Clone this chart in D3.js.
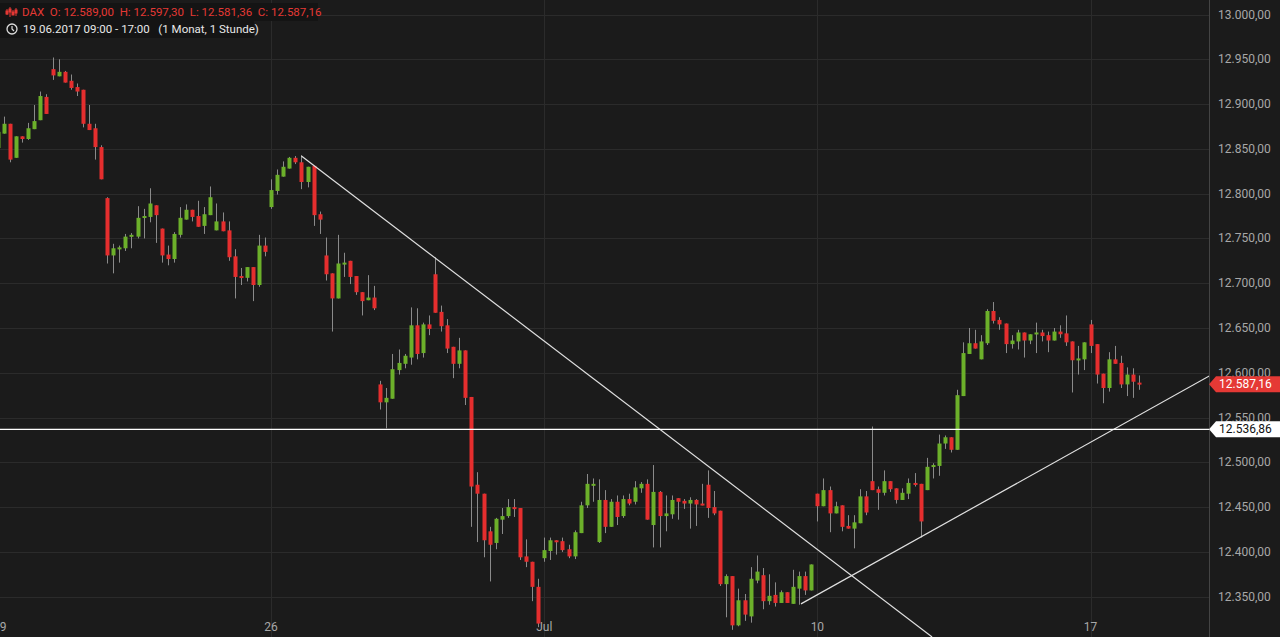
<!DOCTYPE html>
<html><head><meta charset="utf-8">
<script src="https://cdn.jsdelivr.net/npm/d3@7"></script>
<style>body{margin:0;background:#1b1b1b;overflow:hidden}svg{display:block}</style>
</head><body><svg id="c" width="1280" height="637"></svg>
<script>
// Candle values (index -1 .. 187)
const opens=[12851,12867,12878,12840,12864,12861,12872,12882,12908,12939,12931,12936,12926,12919,12916,12878,12873,12852,12795,12731,12738,12739,12752,12752,12773,12774,12787,12761,12732,12727,12754,12771,12782,12775,12764,12776,12759,12769,12759,12730,12708,12706,12718,12698,12742,12785,12803,12819,12828,12840,12835,12813,12831,12777,12731,12711,12683,12721,12725,12708,12690,12681,12684,12587,12567,12571,12603,12610,12617,12653,12622,12654,12710,12668,12653,12629,12610,12625,12573,12475,12465,12423,12410,12436,12440,12450,12449,12395,12389,12361,12393,12401,12413,12412,12403,12395,12421,12452,12474,12411,12458,12428,12456,12440,12459,12456,12471,12476,12430,12467,12440,12442,12460,12457,12454,12458,12454,12475,12450,12446,12364,12373,12318,12346,12328,12368,12374,12345,12352,12343,12355,12342,12359,12373,12357,12465,12451,12469,12443,12452,12429,12426,12432,12462,12479,12470,12466,12479,12471,12458,12465,12477,12476,12469,12495,12496,12521,12528,12514,12574,12621,12633,12615,12633,12669,12659,12655,12632,12635,12645,12636,12643,12645,12642,12636,12646,12644,12635,12614,12615,12654,12632,12599,12583,12615,12611,12587,12598,12589];
const highs=[12872,12886,12878,12864,12864,12879,12899,12914,12911,12952,12950,12937,12933,12923,12916,12899,12878,12854,12796,12744,12742,12755,12756,12786,12783,12806,12787,12761,12742,12757,12785,12788,12782,12792,12785,12808,12789,12779,12769,12738,12717,12718,12718,12754,12751,12816,12827,12836,12841,12842,12843,12830,12831,12780,12751,12711,12754,12734,12725,12708,12690,12709,12697,12591,12583,12621,12626,12621,12673,12672,12656,12664,12729,12675,12660,12629,12639,12625,12573,12489,12465,12428,12438,12449,12459,12459,12449,12414,12389,12370,12416,12416,12413,12416,12408,12424,12456,12487,12482,12481,12469,12459,12463,12463,12465,12479,12478,12481,12497,12468,12463,12463,12460,12459,12461,12459,12476,12491,12468,12446,12375,12373,12359,12353,12383,12396,12382,12375,12366,12357,12355,12380,12378,12378,12386,12465,12482,12473,12456,12452,12441,12441,12470,12468,12540,12473,12491,12479,12471,12471,12482,12488,12476,12505,12499,12531,12530,12528,12581,12634,12650,12648,12642,12671,12679,12662,12655,12642,12648,12645,12643,12656,12648,12646,12650,12653,12664,12635,12630,12634,12659,12632,12599,12623,12630,12619,12606,12605,12597];
const lows=[12849,12867,12835,12840,12857,12860,12872,12882,12889,12927,12931,12924,12916,12909,12874,12871,12838,12816,12722,12711,12723,12736,12739,12750,12750,12768,12745,12723,12720,12723,12751,12771,12769,12763,12755,12776,12759,12758,12725,12683,12698,12702,12680,12696,12730,12783,12799,12819,12828,12833,12805,12807,12764,12755,12703,12646,12683,12707,12699,12687,12664,12681,12670,12559,12538,12571,12598,12605,12609,12615,12617,12642,12667,12646,12622,12594,12605,12564,12428,12411,12394,12367,12403,12420,12438,12439,12391,12383,12345,12316,12389,12391,12397,12400,12393,12392,12421,12449,12456,12410,12421,12428,12430,12438,12452,12453,12466,12436,12405,12405,12423,12437,12436,12448,12426,12429,12452,12438,12441,12362,12327,12313,12317,12323,12321,12365,12336,12341,12339,12343,12343,12342,12341,12352,12357,12434,12451,12422,12443,12423,12426,12404,12432,12441,12469,12447,12463,12467,12454,12458,12459,12473,12416,12469,12482,12485,12515,12511,12514,12574,12621,12627,12615,12631,12655,12648,12622,12627,12626,12617,12632,12622,12635,12623,12636,12639,12630,12578,12598,12603,12622,12588,12566,12579,12610,12583,12574,12572,12581];
const closes=[12869,12878,12838,12864,12861,12873,12881,12909,12889,12932,12936,12924,12918,12914,12878,12871,12852,12816,12731,12739,12740,12752,12754,12773,12775,12789,12776,12731,12727,12755,12773,12782,12774,12763,12777,12796,12769,12758,12729,12707,12706,12718,12698,12742,12735,12804,12821,12830,12840,12835,12813,12830,12776,12771,12710,12683,12722,12723,12707,12690,12680,12684,12672,12567,12572,12604,12611,12619,12653,12621,12654,12649,12667,12652,12627,12610,12625,12572,12473,12465,12413,12408,12437,12440,12450,12448,12394,12389,12361,12320,12402,12413,12411,12402,12395,12422,12452,12476,12476,12458,12428,12456,12439,12459,12454,12472,12476,12436,12467,12440,12443,12458,12456,12454,12458,12453,12452,12449,12443,12364,12373,12318,12346,12330,12370,12378,12345,12351,12343,12355,12343,12361,12373,12357,12386,12451,12469,12443,12451,12428,12426,12433,12462,12444,12469,12466,12479,12470,12458,12466,12477,12475,12434,12495,12497,12521,12528,12514,12575,12622,12633,12627,12635,12669,12658,12654,12632,12636,12645,12636,12643,12645,12641,12636,12646,12643,12634,12614,12616,12634,12630,12598,12583,12615,12610,12587,12598,12590,12587];
const firstIndex=-1;
const yTicks=[12350,12400,12450,12500,12550,12600,12650,12700,12750,12800,12850,12900,12950,13000];
const weekTicks=[{i:-0.7,label:"19"},{i:44,label:"26"},{i:89,label:"Jul"},{i:134,label:"10"},{i:179,label:"17"}];
const trendDown=[{i:49,v:12842},{i:152.9,v:12305}];
const trendUp=[{i:131.3,v:12342},{i:198.7,v:12597}];
const hLine=12536.86, lastClose=12587.16;

const fmt=v=>{const s=v.toFixed(2).split('.');return s[0].replace(/\B(?=(\d{3})+(?!\d))/g,'.')+','+s[1];};
const svg=d3.select('#c');
const W=1280,H=637,PR=1209;
const x=d3.scaleLinear().domain([0,187]).range([4,4+187*6.07]);
const y=d3.scaleLinear().domain([12305,13016.2]).range([637,0]);
svg.append('rect').attr('width',W).attr('height',H).attr('fill','#1b1b1b');
const g=svg.append('g');
g.selectAll('.hg').data(yTicks).join('line').attr('x1',0).attr('x2',PR).attr('y1',d=>Math.round(y(d))+.5).attr('y2',d=>Math.round(y(d))+.5).attr('stroke','#2b2b2b');
g.selectAll('.vg').data(weekTicks.slice(1)).join('line').attr('x1',d=>Math.round(x(d.i))+.5).attr('x2',d=>Math.round(x(d.i))+.5).attr('y1',0).attr('y2',H).attr('stroke','#2b2b2b');
svg.append('line').attr('x1',PR+.5).attr('x2',PR+.5).attr('y1',0).attr('y2',H).attr('stroke','#444');
// axis labels
svg.selectAll('.yl').data(yTicks).join('text').attr('x',1218).attr('y',d=>y(d)+4).attr('fill','#a8a8a8').attr('font-family','Roboto, Arial').attr('font-size',12).text(fmt);
svg.selectAll('.xl').data(weekTicks).join('text').attr('x',d=>x(d.i)).attr('y',631).attr('text-anchor','middle').attr('fill','#a8a8a8').attr('font-family','Roboto, Arial').attr('font-size',12).text(d=>d.label);
// candles
const data=opens.map((o,k)=>({i:k+firstIndex,o,h:highs[k],l:lows[k],c:closes[k]}));
const cg=svg.append('g');
cg.selectAll('.w').data(data).join('line').attr('x1',d=>Math.round(x(d.i))+.5).attr('x2',d=>Math.round(x(d.i))+.5).attr('y1',d=>y(d.h)).attr('y2',d=>y(d.l)).attr('stroke','#8a8a8a');
cg.selectAll('.b').data(data).join('rect').attr('x',d=>Math.round(x(d.i))-1.5).attr('width',4)
 .attr('y',d=>y(Math.max(d.o,d.c))).attr('height',d=>Math.max(2,y(Math.min(d.o,d.c))-y(Math.max(d.o,d.c))))
 .attr('fill',d=>d.c>=d.o?'#6cb02a':'#e52e2e');
// lines
const clip=svg.append('clipPath').attr('id','pc').append('rect').attr('width',PR).attr('height',H);
const lg=svg.append('g').attr('clip-path','url(#pc)');
const ln=d3.line().x(d=>x(d.i)).y(d=>y(d.v));
lg.append('path').attr('d',ln(trendDown)).attr('stroke','#e0e0e0').attr('stroke-width',1.2).attr('fill','none');
lg.append('path').attr('d',ln(trendUp)).attr('stroke','#e0e0e0').attr('stroke-width',1.2).attr('fill','none');
lg.append('line').attr('x1',0).attr('x2',PR).attr('y1',y(hLine)).attr('y2',y(hLine)).attr('stroke','#fff').attr('stroke-width',1.2);
// price labels
function tag(v,fill,tc){const yy=y(v);svg.append('path').attr('d',`M${PR},${yy} L${PR+7},${yy-8} L1280,${yy-8} L1280,${yy+8} L${PR+7},${yy+8} Z`).attr('fill',fill);
 svg.append('text').attr('x',1219).attr('y',yy+4).attr('fill',tc).attr('font-family','Roboto, Arial').attr('font-size',12).text(fmt(v));}
tag(lastClose,'#e53935','#fff');
tag(hLine,'#ffffff','#111');
// header
svg.append('rect').attr('x',0).attr('y',3).attr('width',318).attr('height',18).attr('fill','#141414');
svg.append('rect').attr('x',0).attr('y',21).attr('width',254).attr('height',17).attr('fill','#141414');
const ic=svg.append('g').attr('stroke','#e53935').attr('fill','#e53935');
[[7,9,15],[10,7,17],[13,10,14],[16,8,16]].forEach(([xx,a,b])=>{ic.append('line').attr('x1',xx).attr('x2',xx).attr('y1',a).attr('y2',b);ic.append('rect').attr('x',xx-1).attr('y',a+2).attr('width',2).attr('height',3);});
svg.append('text').attr('x',22).attr('y',16).attr('fill','#e53935').attr('font-family','Roboto, Arial').attr('font-size',11.5).attr('xml:space','preserve').text('DAX  O: 12.589,00  H: 12.597,30  L: 12.581,36  C: 12.587,16');
svg.append('circle').attr('cx',12).attr('cy',29).attr('r',5).attr('fill','none').attr('stroke','#ddd').attr('stroke-width',1.3);
svg.append('path').attr('d','M12,26 L12,29 L14,31').attr('fill','none').attr('stroke','#ddd').attr('stroke-width',1.2);
svg.append('text').attr('x',23).attr('y',33).attr('fill','#e8e8e8').attr('font-family','Roboto, Arial').attr('font-size',11.5).attr('xml:space','preserve').text('19.06.2017 09:00 - 17:00   (1 Monat, 1 Stunde)');
</script></body></html>
